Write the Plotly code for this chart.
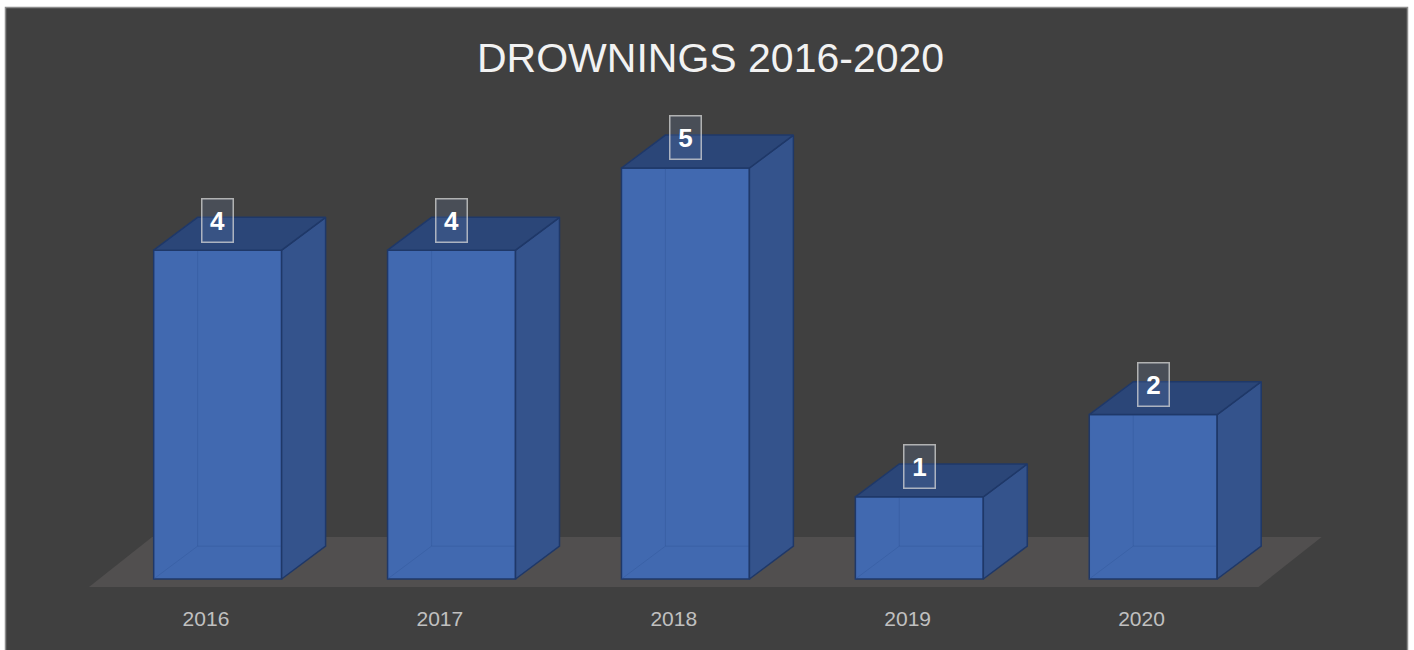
import plotly.graph_objects as go

# chart data
YEARS = ["2016", "2017", "2018", "2019", "2020"]
DROWNINGS = [4, 4, 5, 1, 2]

# look of the fake 3d columns (in axis units)
BAR_W = 0.547      # front face width
BAR_SHIFT = 0.05   # bars sit a little behind / right of the category slot
DEPTH_X = 0.188    # depth offset to the right
DEPTH_Y = 0.40     # depth offset upwards

FRONT = "rgb(65,105,176)"
SIDE = "rgb(52,83,140)"
TOP = "rgb(43,70,120)"
EDGE = "rgb(31,56,104)"
BG = "#404040"
FLOOR = "#514f4f"

W, H = 1414, 650
L, R, T, B = 60, 54, 100, 50
XR = [-0.624, 4.934]
YR = [-0.2555, 5.827]

fig = go.Figure()

n = len(YEARS)
xs = [i + BAR_SHIFT for i in range(n)]

# floor of the 3d plot (slot edges -0.5 .. n-0.5, pushed back by the floor depth)
fx = [-0.5, -0.5 + 0.27, n - 0.5 + 0.27, n - 0.5]
fy = [-0.097, 0.511, 0.511, -0.097]
floor_path = "M " + " L ".join("%f,%f" % (a, b) for a, b in zip(fx, fy)) + " Z"
fig.add_shape(type="path", path=floor_path, xref="x", yref="y",
              fillcolor=FLOOR, line=dict(width=0), layer="below")

# front faces
fig.add_trace(go.Bar(x=xs, y=DROWNINGS, width=BAR_W, base=0,
                     marker=dict(color=FRONT, line=dict(color=EDGE, width=1.5)),
                     hoverinfo="skip", showlegend=False))

# hidden back edges, seen faintly through the columns
hx, hy = [], []
for x, v in zip(xs, DROWNINGS):
	xl = x - BAR_W / 2
	xr = x + BAR_W / 2
	hx += [xl, xl + DEPTH_X, xr + DEPTH_X, None, xl + DEPTH_X, xl + DEPTH_X, None]
	hy += [0, DEPTH_Y, DEPTH_Y, None, DEPTH_Y, v + DEPTH_Y, None]
fig.add_trace(go.Scatter(x=hx, y=hy, mode="lines", line=dict(color="rgba(45,82,150,0.35)", width=1),
                         hoverinfo="skip", showlegend=False))

# side faces and top faces built from the values
sx, sy, tx, ty = [], [], [], []
for x, v in zip(xs, DROWNINGS):
	xl = x - BAR_W / 2
	xr = x + BAR_W / 2
	sx += [xr, xr + DEPTH_X, xr + DEPTH_X, xr, xr, None]
	sy += [0, DEPTH_Y, v + DEPTH_Y, v, 0, None]
	tx += [xl, xl + DEPTH_X, xr + DEPTH_X, xr, xl, None]
	ty += [v, v + DEPTH_Y, v + DEPTH_Y, v, v, None]

fig.add_trace(go.Scatter(x=sx, y=sy, fill="toself", fillcolor=SIDE, mode="lines",
                         line=dict(color=EDGE, width=1.5), hoverinfo="skip", showlegend=False))
fig.add_trace(go.Scatter(x=tx, y=ty, fill="toself", fillcolor=TOP, mode="lines",
                         line=dict(color=EDGE, width=1.5), hoverinfo="skip", showlegend=False))

# data labels
for x, v in zip(xs, DROWNINGS):
	fig.add_annotation(x=x, y=v + 0.365, text="<b>%d</b>" % v, showarrow=False,
	                   font=dict(family="Liberation Sans", size=26, color="white"),
	                   bgcolor="rgba(110,135,180,0.2)", bordercolor="rgba(215,215,215,0.75)",
	                   borderwidth=1.5, borderpad=1, width=28, height=40)

pw, ph = W - L - R, H - T - B

# title
fig.add_annotation(x=0.5, y=(H - B - 58) / ph, xref="paper", yref="paper",
                   text="DROWNINGS 2016-2020", showarrow=False,
                   font=dict(family="Liberation Sans", size=41, color="#f2f2f2"),
                   xanchor="center", yanchor="middle")

# chart area frame
fig.add_shape(type="rect", xref="paper", yref="paper",
              x0=(5.5 - L) / pw, x1=(1407.5 - L) / pw,
              y0=-0.2, y1=(H - B - 7.5) / ph,
              fillcolor=BG, line=dict(color="#8c8c8c", width=1.5), layer="below")

fig.update_layout(
	width=W, height=H,
	margin=dict(l=L, r=R, t=T, b=B),
	paper_bgcolor="white",
	plot_bgcolor="rgba(0,0,0,0)",
	showlegend=False,
	xaxis=dict(range=XR, tickvals=list(range(n)), ticktext=YEARS, showgrid=False,
	           zeroline=False, showline=False, ticks="", ticklabelstandoff=4,
	           tickfont=dict(family="Liberation Sans", size=21, color="#c0c0c0")),
	yaxis=dict(range=YR, showgrid=False, zeroline=False, showline=False, showticklabels=False),
)

# page has a default 8px body margin, drop it so the figure sits at the corner
fig.write_html("out.html", config={"displayModeBar": False},
               post_script="document.body.style.margin='0';")
